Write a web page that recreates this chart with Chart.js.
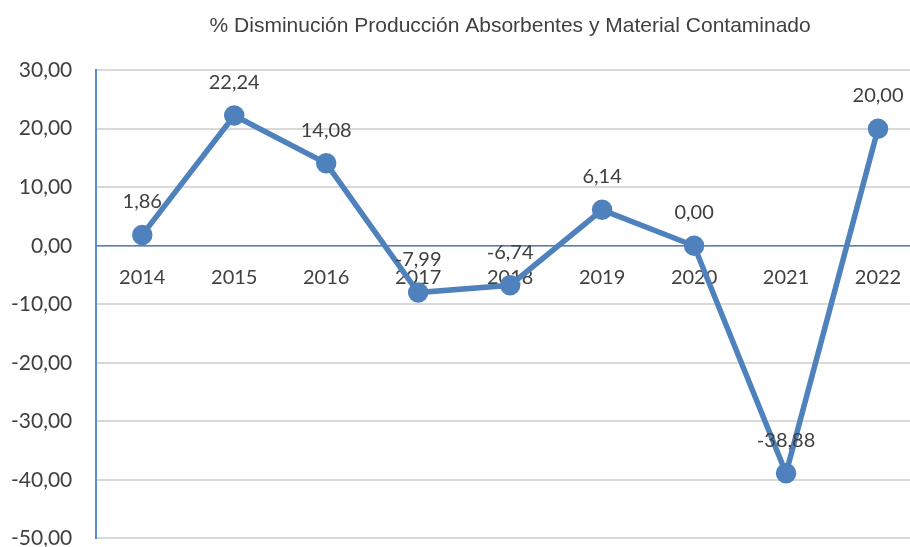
<!DOCTYPE html>
<html>
<head>
<meta charset="utf-8">
<script src="https://cdn.jsdelivr.net/npm/chart.js@4"></script>
<style>
  html, body { margin: 0; padding: 0; background: #fff; overflow: hidden; }
  #wrap { width: 950px; height: 575px; margin-left: -13px; }
</style>
</head>
<body>
<div id="wrap"><canvas id="grafico"></canvas></div>
<script>
const anios = ['2014', '2015', '2016', '2017', '2018', '2019', '2020', '2021', '2022'];
const disminucion = [1.86, 22.24, 14.08, -7.99, -6.74, 6.14, 0.00, -38.88, 20.00];
const titulo = '% Disminución Producción Absorbentes y Material Contaminado';
const yMin = -50, yMax = 30, yPaso = 10;

const azul = '#4f81bd';
const gris = '#404040';
const fmt = v => v.toFixed(2).replace('.', ',');

// etiquetas de datos encima de cada punto
const etiquetas = {
  id: 'etiquetas',
  afterDatasetsDraw(chart) {
    const ctx = chart.ctx;
    const meta = chart.getDatasetMeta(0);
    ctx.save();
    ctx.font = '20px Lato';
    ctx.fillStyle = gris;
    ctx.textAlign = 'center';
    ctx.textBaseline = 'middle';
    meta.data.forEach((p, i) => {
      ctx.fillText(fmt(disminucion[i]), p.x, p.y - 33);
    });
    ctx.restore();
  }
};

new Chart(document.getElementById('grafico'), {
  type: 'line',
  data: {
    labels: anios,
    datasets: [{
      data: disminucion,
      borderColor: azul,
      backgroundColor: azul,
      borderWidth: 5.5,
      pointRadius: 7.5,
      pointBackgroundColor: azul,
      pointBorderColor: azul,
      tension: 0
    }]
  },
  options: {
    responsive: true,
    maintainAspectRatio: false,
    animation: false,
    layout: { padding: { left: 0, right: 0, top: 0, bottom: 0 } },
    plugins: {
      legend: { display: false },
      tooltip: { enabled: false },
      title: {
        display: true,
        fullSize: false,
        text: titulo,
        color: gris,
        font: { family: 'Liberation Sans', size: 21, weight: 'normal' },
        padding: { top: 14, bottom: 31 }
      }
    },
    scales: {
      x: {
        type: 'category',
        offset: true,
        position: { y: 0 },
        grid: { display: false },
        border: { display: true, color: azul, width: 1.5 },
        ticks: { color: gris, font: { family: 'Lato', size: 20 }, padding: 12, maxRotation: 0 }
      },
      y: {
        min: yMin,
        max: yMax,
        ticks: {
          stepSize: yPaso,
          color: gris,
          padding: 24,
          font: { family: 'Lato', size: 21 },
          callback: v => fmt(v)
        },
        grid: { color: '#d9d9d9', lineWidth: 2, drawTicks: false },
        border: { display: true, color: '#5b8bd0', width: 2 }
      }
    }
  },
  plugins: [etiquetas]
});
</script>
</body>
</html>
